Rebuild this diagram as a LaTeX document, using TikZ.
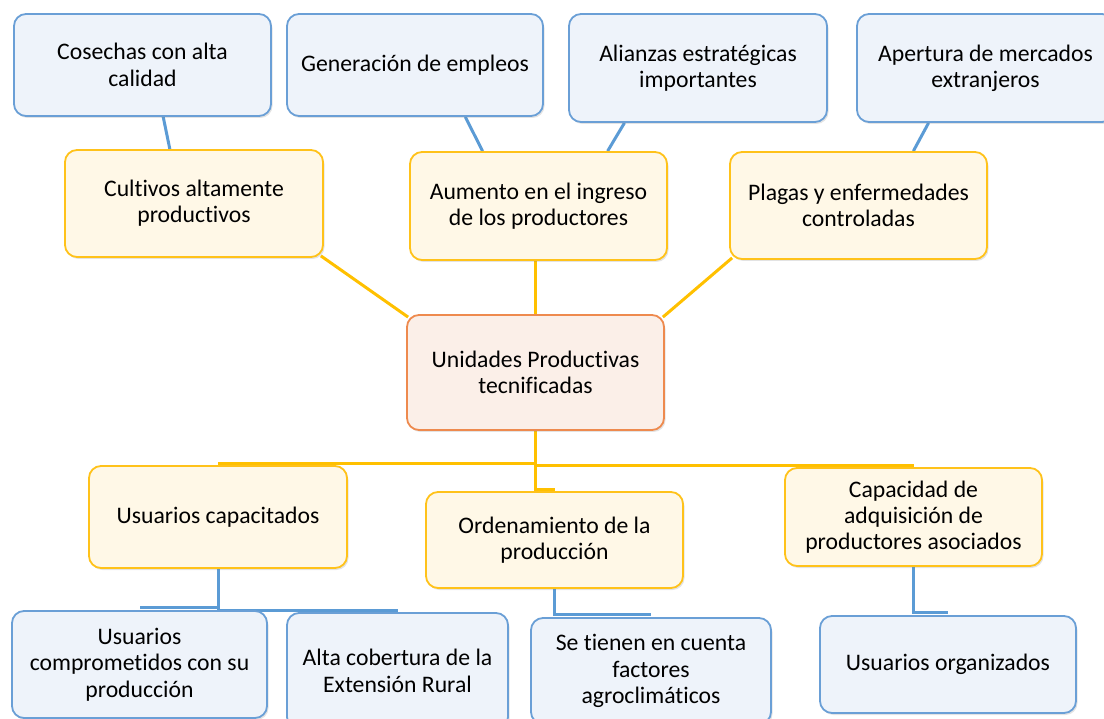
\documentclass[tikz,border=0pt]{standalone}
\usepackage{fontspec}
\setmainfont{Carlito}[RawFeature={-liga;-clig;-calt;-dlig}]
\usetikzlibrary{calc,shadows,backgrounds}
\definecolor{bfill}{HTML}{EEF3FA}
\definecolor{bline}{HTML}{6A9FD6}
\definecolor{yfill}{HTML}{FFF8E7}
\definecolor{yline}{HTML}{FFC21A}
\definecolor{ofill}{HTML}{FBEFE8}
\definecolor{oline}{HTML}{EE8A4E}
\definecolor{clin}{HTML}{FFC000}
\definecolor{blin}{HTML}{5B9BD5}
\tikzset{
  box/.style={rectangle, rounded corners=12pt, inner sep=0pt, align=center,
    line width=1.8pt, font=\fontsize{23.7}{26.3}\selectfont,
    drop shadow={shadow xshift=1.5pt, shadow yshift=-2pt, opacity=0.22}},
  bluebox/.style={box, draw=bline, fill=bfill},
  yelbox/.style={box, draw=yline, fill=yfill},
  orabox/.style={box, draw=oline, fill=ofill},
  ylink/.style={draw=clin, line width=3pt},
  blink/.style={draw=blin, line width=3pt},
}
\begin{document}
\begin{tikzpicture}[x=1pt,y=-1pt]
\useasboundingbox (0,0) rectangle (1104,719);
% top row
\node[bluebox, minimum width=257pt, minimum height=102pt] (cosechas) at (142.5,65) {Cosechas con alta\\calidad};
\node[bluebox, minimum width=256pt, minimum height=102pt] (generacion) at (415,65) {Generación de empleos};
\node[bluebox, minimum width=258pt, minimum height=108pt] (alianzas) at (698,68) {Alianzas estratégicas\\importantes};
\node[bluebox, minimum width=257pt, minimum height=108pt] (apertura) at (985.5,68) {Apertura de mercados\\extranjeros};
% middle row
\node[yelbox, minimum width=258pt, minimum height=107pt] (cultivos) at (194,203.5) {Cultivos altamente\\productivos};
\node[yelbox, minimum width=257pt, minimum height=108pt] (aumento) at (538.5,206) {Aumento en el ingreso\\de los productores};
\node[yelbox, minimum width=257pt, minimum height=107pt] (plagas) at (858.5,205.5) {Plagas y enfermedades\\controladas};
% center
\node[orabox, minimum width=257pt, minimum height=115pt] (unidades) at (535.5,372.5) {Unidades Productivas\\tecnificadas};
% lower row
\node[yelbox, minimum width=258pt, minimum height=102pt] (capacitados) at (218,517) {Usuarios capacitados};
\node[yelbox, minimum width=257pt, minimum height=96pt] (ordenamiento) at (554.5,540) {Ordenamiento de la\\producción};
\node[yelbox, minimum width=257pt, minimum height=98pt] (capacidad) at (913.5,517) {Capacidad de\\adquisición de\\productores asociados};
% bottom row
\node[bluebox, minimum width=255pt, minimum height=107pt] (comprometidos) at (139.5,664.5) {Usuarios\\comprometidos con su\\producción};
\node[bluebox, minimum width=221pt, minimum height=116pt] (alta) at (397.5,671) {Alta cobertura de la\\Extensión Rural};
\node[bluebox, minimum width=240pt, minimum height=106pt] (setienen) at (651,671) {Se tienen en cuenta\\factores\\agroclimáticos};
\node[bluebox, minimum width=256pt, minimum height=97pt] (organizados) at (948,664.5) {Usuarios organizados};
% connectors
\begin{scope}[on background layer]
\draw[blink] ($(cosechas.south west)!0.58!(cosechas.south east)$) -- ($(cultivos.north west)!0.407!(cultivos.north east)$);
\draw[blink] ($(generacion.south west)!0.695!(generacion.south east)$) -- ($(aumento.north west)!0.284!(aumento.north east)$);
\draw[blink] ($(alianzas.south west)!0.217!(alianzas.south east)$) -- ($(aumento.north west)!0.767!(aumento.north east)$);
\draw[blink] ($(apertura.south west)!0.28!(apertura.south east)$) -- ($(plagas.north west)!0.712!(plagas.north east)$);
\draw[ylink] ([shift={(-3pt,2pt)}]cultivos.south east) -- ([shift={(2pt,-3pt)}]unidades.north west);
\draw[ylink] (aumento.south -| unidades.north) -- (unidades.north);
\draw[ylink] ([shift={(3pt,2pt)}]plagas.south west) -- ([shift={(-2pt,-3pt)}]unidades.north east);
\draw[ylink] (unidades.south) |- ([yshift=2pt]capacitados.north);
\draw[ylink] (unidades.south) |- ([yshift=2pt]capacidad.north);
\draw[ylink] (unidades.south) |- ([yshift=2pt]ordenamiento.north);
\draw[blink] (capacitados.south) |- ([yshift=3pt]comprometidos.north);
\draw[blink] (capacitados.south) |- ([yshift=2pt]alta.north);
\draw[blink] (ordenamiento.south) |- ([yshift=3pt]setienen.north);
\draw[blink] (capacidad.south) |- ([yshift=3pt]organizados.north);
\end{scope}
\end{tikzpicture}
\end{document}
